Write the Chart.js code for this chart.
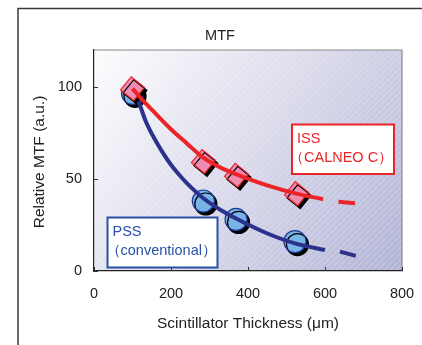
<!DOCTYPE html>
<html><head><meta charset="utf-8">
<script src="https://cdn.jsdelivr.net/npm/chart.js@4/dist/chart.umd.min.js"></script>
<style>html,body{margin:0;padding:0;background:#fff;overflow:hidden;}canvas{display:block;}</style>
</head><body>
<canvas id="c" width="422" height="345"></canvas>
<script>
// ---- data ----
const xTicks = [0, 200, 400, 600, 800];
const yTicks = [0, 50, 100];
const pssX = [100, 284, 369, 522];
const pssY = [96.5, 38, 28, 16];
const issX = [100, 284, 370, 526];
const issY = [99, 59.5, 52, 42];
// fitted curves
const issCurveX = [100, 130, 160, 200, 240, 284, 330, 370, 450, 526, 595];
const issCurveY = [99, 92, 85.5, 77, 69.5, 61.5, 56, 52.5, 46.5, 42, 39];
const issDashX = [635, 678];
const issDashY = [37.6, 36.8];
const pssCurveX = [116, 135, 154, 175, 197, 220, 241, 284, 330, 369, 449, 522, 600];
const pssCurveY = [92, 81, 73, 65.5, 58.5, 52.5, 47.7, 39.5, 33, 28.5, 20.5, 15, 11.4];
const pssDashX = [639, 680];
const pssDashY = [10.5, 8.2];
const titleText = 'MTF';
const xTitle = 'Scintillator Thickness (μm)';
const yTitle = 'Relative MTF (a.u.)';
const issLabel = ['ISS', '（CALNEO C）'];
const pssLabel = ['PSS', '（conventional）'];

const RED = 'rgb(236,36,40)';
const BLUE = 'rgb(44,50,140)';
const FONT = '"Liberation Sans", Arial, sans-serif';

const pts = (xs, ys) => xs.map((x, i) => ({x, y: ys[i]}));

const decor = {
  id: 'decor',
  beforeDraw(chart) {
    const ctx = chart.ctx, a = chart.chartArea;
    ctx.save();
    ctx.fillStyle = '#fff';
    ctx.fillRect(0, 0, chart.width, chart.height);
    // outer frame (top and left only)
    ctx.strokeStyle = '#3a3a3a'; ctx.lineWidth = 1.5;
    ctx.beginPath(); ctx.moveTo(18, 345); ctx.lineTo(18, 8.5); ctx.lineTo(422, 8.5); ctx.stroke();
    // plot background gradient
    const g = ctx.createLinearGradient(a.left, a.top, a.right, a.bottom);
    g.addColorStop(0, 'rgb(253,253,254)');
    g.addColorStop(0.5, 'rgb(218,218,235)');
    g.addColorStop(1, 'rgb(178,180,214)');
    ctx.fillStyle = g;
    ctx.fillRect(a.left, a.top, a.right - a.left, a.bottom - a.top);
    // faint hatching
    ctx.beginPath();
    ctx.rect(a.left, a.top, a.right - a.left, a.bottom - a.top);
    ctx.clip();
    ctx.strokeStyle = 'rgba(255,255,255,0.35)'; ctx.lineWidth = 0.8;
    const h = a.bottom - a.top;
    for (let s = a.left - h; s < a.right + 10; s += 6) {
      ctx.beginPath(); ctx.moveTo(s, a.bottom); ctx.lineTo(s + h, a.top); ctx.stroke();
    }
    ctx.restore();
    // gray top / right border
    ctx.save();
    ctx.strokeStyle = '#8a8a8a'; ctx.lineWidth = 1.2;
    ctx.beginPath(); ctx.moveTo(a.left, a.top); ctx.lineTo(a.right, a.top); ctx.lineTo(a.right, a.bottom); ctx.stroke();
    ctx.restore();
  },
  beforeDatasetDraw(chart, args) {
    const ds = chart.data.datasets[args.index];
    if (ds.shadow) {
      const ctx = chart.ctx;
      ctx.save();
      ctx.shadowColor = '#000';
      ctx.shadowOffsetX = 2.5;
      ctx.shadowOffsetY = 3;
      ctx.shadowBlur = 0.5;
    }
  },
  afterDatasetDraw(chart, args) {
    const ds = chart.data.datasets[args.index];
    if (ds.shadow) chart.ctx.restore();
  },
  afterDraw(chart) {
    const ctx = chart.ctx, a = chart.chartArea;
    const xs = chart.scales.x, ys = chart.scales.y;
    ctx.save();
    // inner tick marks
    ctx.strokeStyle = '#333'; ctx.lineWidth = 1;
    yTicks.forEach(v => { const p = Math.round(ys.getPixelForValue(v)) + 0.5; ctx.beginPath(); ctx.moveTo(a.left, p); ctx.lineTo(a.left + 4, p); ctx.stroke(); });
    xTicks.forEach(v => { const p = Math.round(xs.getPixelForValue(v)) + 0.5; ctx.beginPath(); ctx.moveTo(p, a.bottom); ctx.lineTo(p, a.bottom - 4); ctx.stroke(); });
    // titles
    ctx.fillStyle = '#222';
    ctx.textAlign = 'center'; ctx.textBaseline = 'middle';
    ctx.font = '14.5px ' + FONT;
    ctx.fillText(titleText, 220, 36);
    ctx.font = '15.5px ' + FONT;
    ctx.fillText(xTitle, 248, 324);
    ctx.save();
    ctx.translate(40, 162); ctx.rotate(-Math.PI / 2);
    ctx.fillText(yTitle, 0, 0);
    ctx.restore();
    // legend boxes
    const box = (x, y, w, hh, col, lines, dx) => {
      ctx.fillStyle = '#fff';
      ctx.fillRect(x, y, w, hh);
      ctx.strokeStyle = col; ctx.lineWidth = 2;
      ctx.strokeRect(x, y, w, hh);
      ctx.fillStyle = col;
      ctx.textAlign = 'left'; ctx.textBaseline = 'middle';
      ctx.font = '14.5px ' + FONT;
      ctx.fillText(lines[0], x + 5, y + 14);
      ctx.fillText(lines[1], x + dx, y + 33);
    };
    box(292, 124.5, 102, 49.5, RED, issLabel, -3);
    box(107.5, 217.5, 110, 50, 'rgb(40,80,168)', pssLabel, -2);
    ctx.restore();
  }
};

new Chart(document.getElementById('c'), {
  type: 'scatter',
  data: {
    datasets: [
      { label: 'ISS fit', data: pts(issCurveX, issCurveY), showLine: true, borderColor: RED, borderWidth: 4, pointRadius: 0, cubicInterpolationMode: 'monotone', order: 0 },
      { label: 'ISS ext', data: pts(issDashX, issDashY), showLine: true, borderColor: RED, borderWidth: 4, pointRadius: 0, order: 0 },
      { label: 'PSS fit', data: pts(pssCurveX, pssCurveY), showLine: true, borderColor: BLUE, borderWidth: 4, pointRadius: 0, cubicInterpolationMode: 'monotone', order: 1 },
      { label: 'PSS ext', data: pts(pssDashX, pssDashY), showLine: true, borderColor: BLUE, borderWidth: 4, pointRadius: 0, order: 1 },
      { label: 'ISS', data: pts(issX, issY), shadow: true, pointStyle: 'rectRot', rotation: -6, pointRadius: 12, pointBackgroundColor: 'rgb(238,140,178)', pointBorderColor: RED, pointBorderWidth: 1.2, order: 2 },
      { label: 'PSS', data: pts(pssX, pssY), shadow: true, pointStyle: 'circle', pointRadius: 11, pointBackgroundColor: 'rgb(120,180,230)', pointBorderColor: 'rgb(30,60,150)', pointBorderWidth: 1.2, order: 3 }
    ]
  },
  options: {
    responsive: false,
    animation: false,
    devicePixelRatio: 1,
    layout: { padding: { left: 0, top: 50, right: 20, bottom: 0 } },
    plugins: { legend: { display: false }, tooltip: { enabled: false }, title: { display: false } },
    scales: {
      x: {
        type: 'linear', min: 0, max: 800,
        ticks: { stepSize: 200, padding: 14, color: '#222', font: { family: FONT, size: 14.5 } },
        grid: { display: false, drawTicks: false },
        border: { color: '#222', width: 1.2 },
        afterFit: s => { s.height = 74; s.paddingLeft = 0; s.paddingRight = 0; }
      },
      y: {
        type: 'linear', min: 0, max: 120,
        ticks: { stepSize: 50, padding: 12, color: '#222', font: { family: FONT, size: 14.5 } },
        afterBuildTicks: s => { s.ticks = s.ticks.filter(t => yTicks.includes(t.value)); },
        grid: { display: false, drawTicks: false },
        border: { color: '#222', width: 1.2 },
        afterFit: s => { s.width = 94; s.paddingTop = 0; s.paddingBottom = 0; }
      }
    }
  },
  plugins: [decor]
});
</script>
</body></html>
